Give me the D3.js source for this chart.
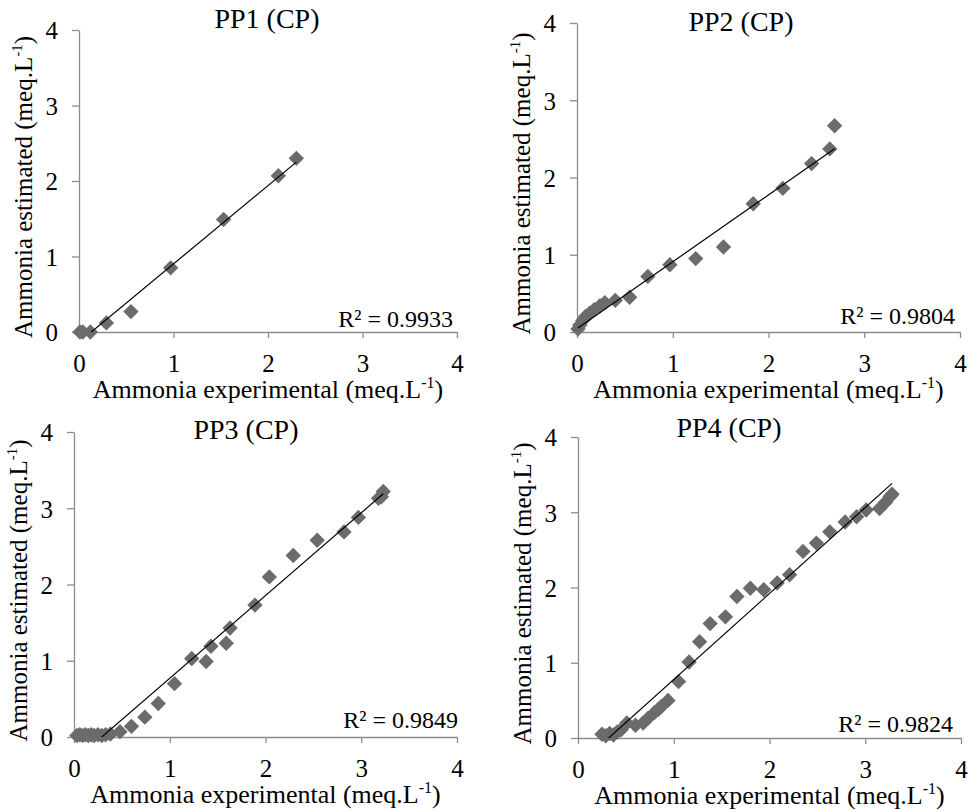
<!DOCTYPE html>
<html>
<head>
<meta charset="utf-8">
<script src="https://cdn.jsdelivr.net/npm/d3@7"></script>
<style>
  body { margin: 0; background: #fff; }
  svg text { font-family: "Liberation Serif", "Times New Roman", serif; fill: #000; }
</style>
</head>
<body>
<svg id="chart" width="969" height="811"></svg>
<script>
// values
var panelNames = ["PP1 (CP)", "PP2 (CP)", "PP3 (CP)", "PP4 (CP)"];
var r2Labels = ["R\u00b2 = 0.9933", "R\u00b2 = 0.9804", "R\u00b2 = 0.9849", "R\u00b2 = 0.9824"];
var axisTicks = [0, 1, 2, 3, 4];

var pp1X = [0.01, 0.04, 0.12, 0.29, 0.55, 0.97, 1.53, 2.11, 2.30];
var pp1Y = [0.00, 0.00, 0.00, 0.12, 0.27, 0.85, 1.49, 2.07, 2.30];

var pp2X = [0.01, 0.03, 0.06, 0.09, 0.13, 0.18, 0.24, 0.29, 0.40, 0.55, 0.74, 0.97, 1.24, 1.53, 1.84, 2.15, 2.45, 2.64, 2.69];
var pp2Y = [0.04, 0.09, 0.15, 0.20, 0.24, 0.29, 0.34, 0.38, 0.41, 0.45, 0.72, 0.87, 0.95, 1.10, 1.66, 1.86, 2.18, 2.37, 2.67];

var pp3X = [0.03, 0.06, 0.09, 0.12, 0.15, 0.18, 0.21, 0.25, 0.29, 0.33, 0.38, 0.48, 0.60, 0.74, 0.88, 1.05, 1.23, 1.38, 1.43, 1.59, 1.63, 1.89, 2.04, 2.29, 2.54, 2.82, 2.97, 3.18, 3.21, 3.23];
var pp3Y = [0.02, 0.03, 0.02, 0.03, 0.02, 0.03, 0.02, 0.03, 0.02, 0.03, 0.04, 0.07, 0.14, 0.26, 0.44, 0.70, 1.03, 0.99, 1.19, 1.23, 1.43, 1.73, 2.10, 2.38, 2.58, 2.69, 2.88, 3.13, 3.15, 3.22];

var pp4X = [0.25, 0.29, 0.33, 0.37, 0.41, 0.45, 0.51, 0.60, 0.68, 0.73, 0.80, 0.84, 0.87, 0.94, 1.05, 1.16, 1.27, 1.38, 1.54, 1.66, 1.80, 1.94, 2.08, 2.21, 2.35, 2.49, 2.63, 2.79, 2.91, 3.01, 3.15, 3.21, 3.26, 3.28];
var pp4Y = [0.05, 0.03, 0.06, 0.04, 0.08, 0.11, 0.20, 0.17, 0.20, 0.26, 0.34, 0.38, 0.42, 0.50, 0.75, 1.01, 1.28, 1.52, 1.61, 1.88, 1.99, 1.97, 2.06, 2.17, 2.48, 2.59, 2.74, 2.87, 2.94, 3.03, 3.05, 3.13, 3.21, 3.24];

// linear trendlines (slope, intercept)
var trendSlope = [1.037, 0.865, 1.085, 1.143];
var trendIntercept = [-0.135, 0.044, -0.315, -0.366];

var seriesX = [pp1X, pp2X, pp3X, pp4X];
var seriesY = [pp1Y, pp2Y, pp3Y, pp4Y];

// layout of each panel (pixel box of the 0..4 axes, title spot, R2 spot)
var panels = [
  { left: 79,  right: 457, bottom: 332, top: 30,  titleX: 267, titleY: 28,  r2X: 453, r2Y: 327 },
  { left: 577, right: 960, bottom: 332, top: 23,  titleX: 741, titleY: 31,  r2X: 955, r2Y: 324 },
  { left: 74,  right: 457, bottom: 737, top: 432, titleX: 246, titleY: 439, r2X: 458, r2Y: 728 },
  { left: 578, right: 961, bottom: 738, top: 437, titleX: 729, titleY: 437, r2X: 953, r2Y: 732 }
];

var svg = d3.select("#chart");
var axisColor = "#8c8c8c";
var markColor = "#6b6b6b";
var diamond = d3.symbol().type(d3.symbolSquare).size(118);

panels.forEach(function(p, i) {
  var x = d3.scaleLinear().domain([0, 4]).range([p.left, p.right]);
  var y = d3.scaleLinear().domain([0, 4]).range([p.bottom, p.top]);
  var g = svg.append("g");

  // clip for the trendline (Excel cuts it at the axis)
  g.append("clipPath").attr("id", "clip" + i)
    .append("rect")
    .attr("x", p.left).attr("y", p.top)
    .attr("width", p.right - p.left).attr("height", p.bottom - p.top);

  // axes
  var xAxis = g.append("g")
    .attr("transform", "translate(0," + p.bottom + ")")
    .call(d3.axisBottom(x).tickValues(axisTicks).tickFormat(d3.format("d")).tickSize(6).tickSizeOuter(0));
  xAxis.selectAll("text").attr("y", 40).attr("dy", 0).style("font-size", "25px");

  var yAxis = g.append("g")
    .attr("transform", "translate(" + p.left + ",0)")
    .call(d3.axisLeft(y).tickValues(axisTicks).tickFormat(d3.format("d")).tickSize(7).tickSizeOuter(0));
  yAxis.selectAll("text").attr("x", -21).attr("dy", "0.35em").style("font-size", "25px");

  g.selectAll(".domain, .tick line").attr("stroke", axisColor).attr("stroke-width", 1.3);
  g.selectAll(".tick text").attr("fill", "#000").style("font-family", "'Liberation Serif', serif");

  // points
  var pts = seriesX[i].map(function(v, k) { return { x: v, y: seriesY[i][k] }; });
  g.selectAll("path.pt")
    .data(pts)
    .enter()
    .append("path")
    .attr("class", "pt")
    .attr("d", diamond)
    .attr("fill", markColor)
    .attr("transform", function(d) { return "translate(" + x(d.x) + "," + y(d.y) + ") rotate(45)"; });

  // trendline over the data range
  var ext = d3.extent(seriesX[i]);
  var line = d3.line().x(function(d) { return x(d); })
    .y(function(d) { return y(trendSlope[i] * d + trendIntercept[i]); });
  g.append("path")
    .attr("d", line(ext))
    .attr("clip-path", "url(#clip" + i + ")")
    .attr("fill", "none")
    .attr("stroke", "#000")
    .attr("stroke-width", 1.2);

  // title
  g.append("text")
    .attr("x", p.titleX).attr("y", p.titleY)
    .attr("text-anchor", "middle")
    .style("font-size", "28px")
    .text(panelNames[i]);

  // R2
  g.append("text")
    .attr("x", p.r2X).attr("y", p.r2Y)
    .attr("text-anchor", "end")
    .style("font-size", "24px")
    .text(r2Labels[i]);

  // x axis title
  var xt = g.append("text")
    .attr("x", (p.left + p.right) / 2).attr("y", p.bottom + 66)
    .attr("text-anchor", "middle")
    .style("font-size", "26px");
  xt.append("tspan").text("Ammonia experimental (meq.L");
  xt.append("tspan").attr("dy", -10).style("font-size", "16px").text("-1");
  xt.append("tspan").attr("dy", 10).text(")");

  // y axis title
  var yt = g.append("text")
    .attr("transform", "translate(" + (p.left - 47) + "," + ((p.top + p.bottom) / 2 + 6) + ") rotate(-90)")
    .attr("text-anchor", "middle")
    .style("font-size", "25px");
  yt.append("tspan").text("Ammonia estimated (meq.L");
  yt.append("tspan").attr("dy", -10).style("font-size", "15px").text("-1");
  yt.append("tspan").attr("dy", 10).text(")");
});
</script>
</body>
</html>
